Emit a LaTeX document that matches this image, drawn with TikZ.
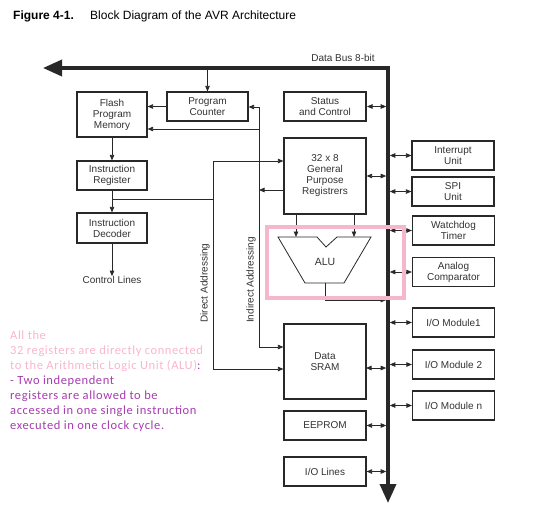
\documentclass[tikz,border=0pt]{standalone}
\usepackage{fontspec}
\setmainfont{Liberation Sans}
\newfontfamily\carlito[LetterSpace=4.8]{Carlito}
\usetikzlibrary{arrows.meta,calc}
\definecolor{ln}{RGB}{40,40,40}
\definecolor{tx}{RGB}{50,50,50}
\definecolor{pinkc}{RGB}{248,182,206}
\definecolor{purp}{RGB}{165,60,175}
\begin{document}
\begin{tikzpicture}[x=1pt,y=-1pt,
  box/.style={draw=ln,line width=1.2pt,rectangle,inner sep=1pt,align=center,text=tx,
    font=\fontsize{10}{11}\selectfont},
  wbox/.style={box,minimum width=70pt},
  mbox/.style={box,minimum width=82pt,minimum height=29pt},
  arr/.style={draw=ln,line width=0.8pt,-{Triangle[length=5.5pt,width=4.5pt]}},
  darr/.style={draw=ln,line width=0.8pt,{Triangle[length=5.5pt,width=4.5pt]}-{Triangle[length=5.5pt,width=4.5pt]}},
  lbl/.style={text=tx,font=\fontsize{10}{11}\selectfont,inner sep=0pt},
  bus/.style={draw=ln,line width=3.5pt}]
\useasboundingbox (0,0) rectangle (536,520);
% title
\node[anchor=west,inner sep=0pt,font=\bfseries\fontsize{12}{13}\selectfont] (fig) at (13,16) {Figure 4-1.};
\node[anchor=west,inner sep=0pt,font=\fontsize{12}{13}\selectfont] (ttl) at (90,16) {Block Diagram of the AVR Architecture};
% bus
\coordinate (busL) at (43,68);
\coordinate (busC) at (388,68);
\coordinate (busB) at (388,503);
\draw[bus,miter limit=10,{Triangle[length=19pt,width=16pt]}-{Triangle[length=19pt,width=16pt]}] (busL) -- (busC) -- (busB);
\node[lbl] (dbus) at (343,58) {Data Bus 8-bit};
% boxes
\node[box,minimum width=81pt,minimum height=29pt] (pc) at (207.5,106.5) {Program\\Counter};
\node[wbox,minimum height=45pt] (flash) at (112,114.5) {Flash\\Program\\Memory};
\node[mbox,line width=2pt] (status) at (325,106.5) {Status\\and Control};
\node[box,minimum width=82pt,minimum height=76pt] (gpr) at (325,176) {32 x 8\\General\\Purpose\\Registrers};
\node[wbox,minimum height=29pt] (ir) at (112,175.5) {Instruction\\Register};
\node[wbox,minimum height=30pt] (idec) at (112,228) {Instruction\\Decoder};
\node[lbl] (ctl) at (112,280) {Control Lines};
\node[mbox] (int) at (453,155.5) {Interrupt\\Unit};
\node[mbox] (spi) at (453,191.5) {SPI\\Unit};
\node[mbox] (wd) at (453.5,230.5) {Watchdog\\Timer};
\node[mbox] (ac) at (453.5,272) {Analog\\Comparator};
\node[mbox] (io1) at (453.5,322.5) {I/O Module1};
\node[mbox] (io2) at (453.5,364.5) {I/O Module 2};
\node[mbox] (ion) at (453.5,405.5) {I/O Module n};
\node[box,minimum width=82pt,minimum height=75pt] (sram) at (325,361.5) {Data\\SRAM};
\node[mbox] (eep) at (325,425.5) {EEPROM};
\node[mbox] (iol) at (325,471.5) {I/O Lines};
% ALU
\coordinate (a1) at (278,237);
\coordinate (a2) at (317,237);
\coordinate (a3) at (326,247);
\coordinate (a4) at (337,237);
\coordinate (a5) at (371,237);
\coordinate (a6) at (344,283);
\coordinate (a7) at (305,283);
\draw[ln,line width=0.8pt] (a1) -- (a2) -- (a3) -- (a4) -- (a5) -- (a6) -- (a7) -- cycle;
\node[lbl,font=\fontsize{10.5}{11}\selectfont] (alu) at (325,262) {ALU};
\coordinate (aluA) at (296,237);
\coordinate (aluB) at (354,237);
\coordinate (aluO) at (325,283);
\coordinate (aluT) at (325,300);
\draw[arr] (gpr.south -| aluA) -- (aluA);
\draw[arr] (gpr.south -| aluB) -- (aluB);
\draw[arr,shorten >=1.8pt] (aluO) -- (aluT) -- (busC |- aluT);
% program side
\draw[arr] (busL -| pc.north) -- (pc.north);
\draw[arr] (pc.west) -- (flash.east |- pc.west);
\draw[arr] (flash.south) -- (ir.north);
\draw[arr] (ir.south) -- (idec.north);
\draw[arr] (idec.south) -- (ctl.north);
% direct addressing
\coordinate (j1) at (112,199);
\coordinate (dTop) at (213,161);
\coordinate (dMid) at (213,199);
\coordinate (dBot) at (213,369);
\draw[ln,line width=0.8pt] (j1) -- (dMid);
\draw[arr] (dMid) -- (dTop) -- (gpr.west |- dTop);
\draw[arr] (dMid) -- (dBot) -- (sram.west |- dBot);
\node[lbl,rotate=90] (dadr) at (205,283) {Direct Addressing};
% indirect addressing
\coordinate (iTop) at (259,107);
\coordinate (iFl) at (259,129);
\coordinate (iReg) at (259,190);
\coordinate (iBot) at (259,347);
\draw[arr] (iFl) -- (iTop) -- (pc.east |- iTop);
\draw[arr] (iFl) -- (flash.east |- iFl);
\draw[arr] (iFl) -- (iBot) -- (sram.west |- iBot);
\draw[arr] (gpr.west |- iReg) -- (iReg);
\node[lbl,rotate=90] (iadr) at (251,280) {Indirect Addressing};
% bus connections (left)
\draw[darr,shorten >=1.8pt] (status.east) -- (busC |- status.east);
\draw[darr,shorten >=1.8pt] (gpr.east) -- (busC |- gpr.east);
\coordinate (sramP) at (366,368);
\draw[darr,shorten >=1.8pt] (sramP) -- (busC |- sramP);
\draw[darr,shorten >=1.8pt] (eep.east) -- (busC |- eep.east);
\draw[darr,shorten >=1.8pt] (iol.east) -- (busC |- iol.east);
% bus connections (right)
\foreach \m in {int,spi,wd,ac,io1,io2,ion}{
  \draw[darr,shorten <=1.8pt] (busC |- \m.west) -- (\m.west);
}
% highlight
\draw[pinkc,line width=4pt] (267,227) rectangle (404,298);
% annotation
\node[anchor=north west,inner sep=0pt,align=left,font=\carlito\fontsize{12.5}{15}\selectfont] (note) at (10,331)
{\textcolor{pinkc}{All the}\\
\textcolor{pinkc}{32 registers are directly connected}\\
\textcolor{pinkc}{to the Arithmetic Logic Unit (ALU)}\textcolor{purp}{:}\\
\textcolor{purp}{- Two independent}\\
\textcolor{purp}{registers are allowed to be}\\
\textcolor{purp}{accessed in one single instruction}\\
\textcolor{purp}{executed in one clock cycle.}};
\end{tikzpicture}
\end{document}
